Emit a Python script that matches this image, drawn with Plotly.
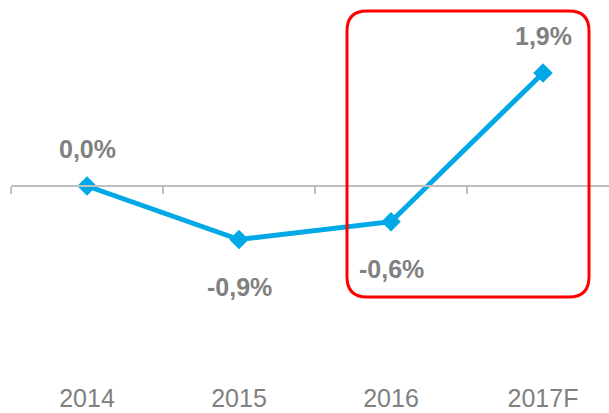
import plotly.graph_objects as go

# ---- data ----
categories = ["2014", "2015", "2016", "2017F"]
growth = [0.0, -0.9, -0.6, 1.9]
labels = [f"{v:.1f}".replace(".", ",") + "%" for v in growth]

# ---- layout geometry ----
W, H = 609, 413
ML, MR, MT, MB = 11, 0, 0, 0
PW, PH = W - ML - MR, H - MT - MB
CAT_PX = 152.0           # pixels per category
UNIT_PX = 59.5           # pixels per 1 percentage point
ZERO_PY = 186.0          # pixel row of the zero line

x_range = [-0.5, -0.5 + PW / CAT_PX]
y_range = [-(H - MB - ZERO_PY) / UNIT_PX, (ZERO_PY - MT) / UNIT_PX]
zero_pos = (0 - y_range[0]) / (y_range[1] - y_range[0])

GRAY_TXT = "#808080"
AXIS_GRAY = "#bfbfbf"
BLUE = "#00A9E6"
FONT = "Arial, Liberation Sans, sans-serif"

fig = go.Figure()
fig.add_trace(go.Scatter(
    x=categories, y=growth, mode="lines+markers",
    line=dict(color=BLUE, width=5),
    marker=dict(symbol="diamond", size=15, color=BLUE),
    hoverinfo="skip", showlegend=False,
))

for i, (v, t) in enumerate(zip(growth, labels)):
    fig.add_annotation(
        x=i, y=v, xref="x", yref="y", text=f"<b>{t}</b>", showarrow=False,
        yshift=37 if v >= 0 else -47,
        font=dict(family=FONT, size=25, color=GRAY_TXT),
    )

# rounded red highlight box (pixel geometry -> paper coords)
def px2paper(px, py):
    return (px - ML) / PW, (H - MB - py) / PH

x0, y0, x1, y1, r = 347, 11, 589, 297, 20
pts = {
    "a": px2paper(x0 + r, y0), "b": px2paper(x1 - r, y0), "c": px2paper(x1, y0),
    "d": px2paper(x1, y0 + r), "e": px2paper(x1, y1 - r), "f": px2paper(x1, y1),
    "g": px2paper(x1 - r, y1), "h": px2paper(x0 + r, y1), "i": px2paper(x0, y1),
    "j": px2paper(x0, y1 - r), "k": px2paper(x0, y0 + r), "l": px2paper(x0, y0),
}
P = lambda k: f"{pts[k][0]:.5f},{pts[k][1]:.5f}"
path = (f"M {P('a')} L {P('b')} Q {P('c')} {P('d')} L {P('e')} Q {P('f')} {P('g')} "
        f"L {P('h')} Q {P('i')} {P('j')} L {P('k')} Q {P('l')} {P('a')} Z")
fig.add_shape(type="path", path=path, xref="paper", yref="paper",
              line=dict(color="#FF0000", width=3), fillcolor="rgba(0,0,0,0)")

fig.update_layout(
    width=W, height=H,
    margin=dict(l=ML, r=MR, t=MT, b=MB, pad=0),
    paper_bgcolor="white", plot_bgcolor="white",
    font=dict(family=FONT),
    xaxis=dict(
        type="category", categoryorder="array", categoryarray=categories,
        range=x_range, anchor="free", position=zero_pos, side="bottom",
        showline=True, linecolor=AXIS_GRAY, linewidth=2,
        ticks="outside", tickson="boundaries", ticklen=7, tickwidth=1.5,
        tickcolor=AXIS_GRAY, showgrid=False, zeroline=False,
        tickfont=dict(family=FONT, size=25, color=GRAY_TXT),
        ticklabelstandoff=190, automargin=False,
    ),
    yaxis=dict(range=y_range, visible=False, showgrid=False, zeroline=False),
)

fig.write_html(
    "out.html",
    config={"displayModeBar": False},
    post_script="document.body.style.margin='0';document.body.style.padding='0';"
                "document.body.style.overflow='hidden';",
)
